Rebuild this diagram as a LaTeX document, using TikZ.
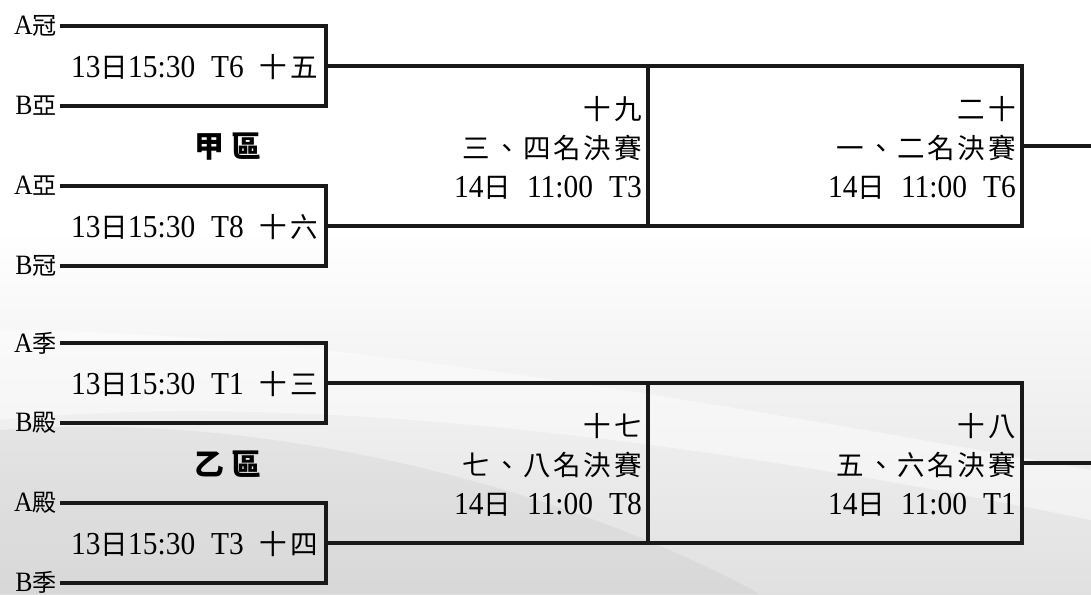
\documentclass[tikz,border=0pt]{standalone}
\usepackage{fontspec}
\setmainfont[FakeStretch=0.92]{Liberation Serif}
\newfontfamily\cj[Scale=0.86]{Noto Sans CJK TC}
\newcommand\C[1]{{\cj #1}}
\newcommand\sep{\hspace{0.5em}}
\newcommand\gp{\hspace{0.1em}}
\begin{document}
\begin{tikzpicture}[x=0.75pt,y=-0.75pt,
  wire/.style={line width=3pt,line join=miter,line cap=rect,black!90},
  thin wire/.style={line width=2.6pt,black!90},
  team/.style={anchor=east,inner sep=0pt,font=\fontsize{21}{21}\selectfont},
  match/.style={anchor=east,inner sep=0pt,font=\fontsize{24}{24}\selectfont},
  final/.style={anchor=east,inner sep=0pt,align=right,font=\fontsize{24}{27}\selectfont},
  zone/.style={inner sep=0pt,font=\fontsize{26}{26}\selectfont\cj\bfseries}]
\useasboundingbox (0,0) rectangle (1091,594);
% background
\fill[white] (0,0) rectangle (1091,594);
\shade[top color=white,bottom color=black!12] (0,230) rectangle (1091,594);
\fill[white,opacity=0.45] (0,330) .. controls (300,330) and (700,400) .. (1091,470)
  -- (1091,520) .. controls (700,440) and (300,390) .. (0,420) -- cycle;
\fill[black,opacity=0.04] (0,430) .. controls (250,410) and (550,480) .. (760,594) -- (0,594) -- cycle;

% ---------- upper half ----------
\node[team] (tA1) at (57,26) {A\C{冠}};
\node[team] (tB1) at (57,106) {B\C{亞}};
\node[team] (tA2) at (57,186) {A\C{亞}};
\node[team] (tB2) at (57,266) {B\C{冠}};
\coordinate (eA1) at (62,26);  \coordinate (eB1) at (62,106);
\coordinate (eA2) at (62,186); \coordinate (eB2) at (62,266);
\coordinate (j15) at (326,66); \coordinate (j16) at (326,226);
\draw[wire] (eA1) -| (j15) |- (eB1);
\draw[wire] (eA2) -| (j16) |- (eB2);
\node[match] (m15) at (318,67) {13\C{日}15:30\sep T6\sep\C{十\gp 五}};
\node[match] (m16) at (318,227) {13\C{日}15:30\sep T8\sep\C{十\gp 六}};
\node[zone] (z1) at (228,147) {甲\hspace{0.25em}區};
\coordinate (k19t) at (648,66); \coordinate (k19b) at (648,226);
\coordinate (k20t) at (1022,66); \coordinate (k20b) at (1022,226);
\coordinate (o20) at (1022,146); \coordinate (x20) at (1091,146);
\draw[wire] (j15) -- (k20t) -- (k20b) -- (j16);
\draw[thin wire] (k19t) -- (k19b);
\draw[wire] (o20) -- (x20);
\node[final] (f19) at (642,148) {\C{十\gp 九}\\[2pt]\C{三\gp 、\gp 四\gp 名\gp 決\gp 賽}\\[2pt]14\C{日}\sep 11:00\sep T3};
\node[final] (f20) at (1016,148) {\C{二\gp 十}\\[2pt]\C{一\gp 、\gp 二\gp 名\gp 決\gp 賽}\\[2pt]14\C{日}\sep 11:00\sep T6};

% ---------- lower half ----------
\node[team] (tA3) at (57,343) {A\C{季}};
\node[team] (tB3) at (57,423) {B\C{殿}};
\node[team] (tA4) at (57,503) {A\C{殿}};
\node[team] (tB4) at (57,582) {B\C{季}};
\coordinate (eA3) at (62,343); \coordinate (eB3) at (62,423);
\coordinate (eA4) at (62,503); \coordinate (eB4) at (62,583);
\coordinate (j13) at (326,383); \coordinate (j14) at (326,543);
\draw[wire] (eA3) -| (j13) |- (eB3);
\draw[wire] (eA4) -| (j14) |- (eB4);
\node[match] (m13) at (318,384) {13\C{日}15:30\sep T1\sep\C{十\gp 三}};
\node[match] (m14) at (318,544) {13\C{日}15:30\sep T3\sep\C{十\gp 四}};
\node[zone] (z2) at (228,464) {乙\hspace{0.25em}區};
\coordinate (k17t) at (648,383); \coordinate (k17b) at (648,543);
\coordinate (k18t) at (1022,383); \coordinate (k18b) at (1022,543);
\coordinate (o18) at (1022,463); \coordinate (x18) at (1091,463);
\draw[wire] (j13) -- (k18t) -- (k18b) -- (j14);
\draw[thin wire] (k17t) -- (k17b);
\draw[wire] (o18) -- (x18);
\node[final] (f17) at (642,465) {\C{十\gp 七}\\[2pt]\C{七\gp 、\gp 八\gp 名\gp 決\gp 賽}\\[2pt]14\C{日}\sep 11:00\sep T8};
\node[final] (f18) at (1016,465) {\C{十\gp 八}\\[2pt]\C{五\gp 、\gp 六\gp 名\gp 決\gp 賽}\\[2pt]14\C{日}\sep 11:00\sep T1};
\end{tikzpicture}
\end{document}
